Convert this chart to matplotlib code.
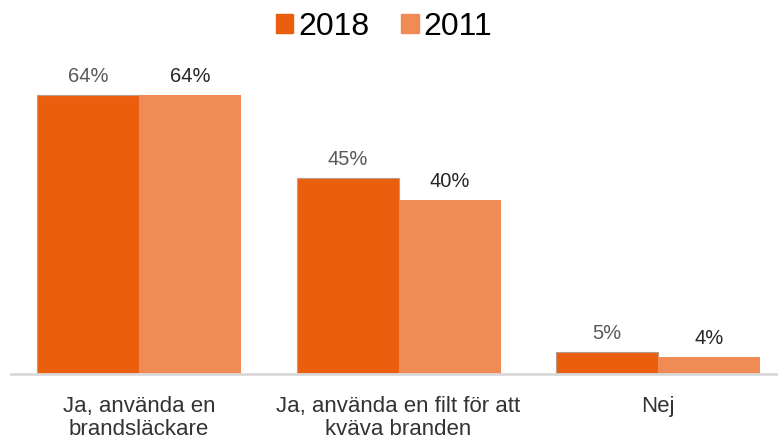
import matplotlib.pyplot as plt
import numpy as np
from matplotlib.patches import Patch

categories = ["Ja, använda en\nbrandsläckare", "Ja, använda en filt för att\nkväva branden", "Nej"]
years = ["2018", "2011"]
v2018 = [64, 45, 5]
v2011 = [64, 40, 4]

c2018 = "#eb5e0e"
c2011 = "#f08b55"

plt.rcParams['font.family'] = ['Liberation Sans', 'DejaVu Sans']

fig = plt.figure(figsize=(7.78, 4.44), dpi=100)
ax = fig.add_axes([11/778, 70/444, 767/778, 314/444])

x = np.arange(len(categories))
w = 0.393
b1 = ax.bar(x - w/2, v2018, w, color=c2018, edgecolor="#b89c8c", linewidth=0.8)
b2 = ax.bar(x + w/2, v2011, w, color=c2011, linewidth=0)

for rect, v in zip(b1, v2018):
    ax.text(rect.get_x() + rect.get_width()/2, v + 2.0, f"{v}%", ha="center", va="bottom",
            fontsize=14.5, color="#595959")
for rect, v in zip(b2, v2011):
    ax.text(rect.get_x() + rect.get_width()/2, v + 2.0, f"{v}%", ha="center", va="bottom",
            fontsize=14.5, color="#262626")

ax.set_xlim(-0.493, 2.462)
ax.set_ylim(0, 72)
ax.set_xticks(x)
ax.set_xticklabels(categories, fontsize=16, color="#333333", linespacing=1.12)
ax.tick_params(axis="x", length=0, pad=16)
ax.set_yticks([])
for s in ["top", "right", "left"]:
    ax.spines[s].set_visible(False)
ax.spines["bottom"].set_color("#d9d9d9")
ax.spines["bottom"].set_linewidth(2)

handles = [Patch(color=c2018), Patch(color=c2011)]
fig.legend(handles, years, loc="center", bbox_to_anchor=(384/778, 1 - 27/444), ncol=2,
           frameon=False, fontsize=23, handlelength=0.55, handleheight=0.55,
           handletextpad=0.15, columnspacing=1.0)

fig.savefig("out.png", dpi=100)
